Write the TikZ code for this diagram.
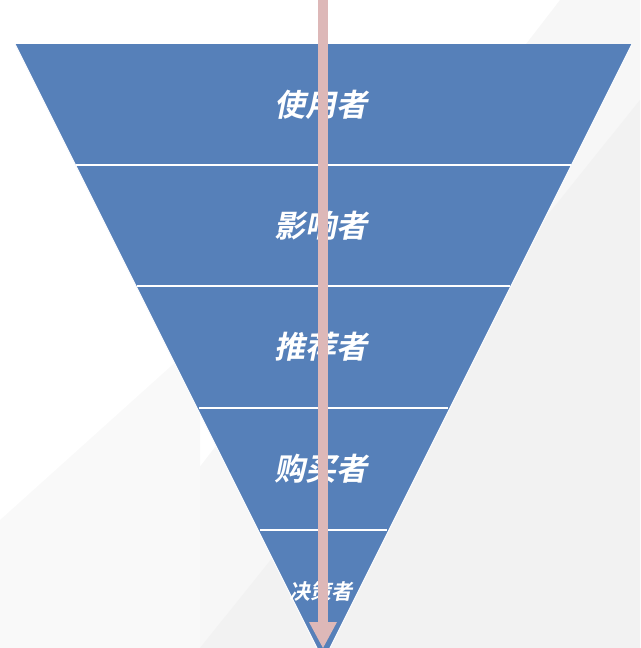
\documentclass[tikz,border=0pt]{standalone}
\usepackage{fontspec}
\newfontfamily\cjk[FakeSlant=0.2]{Noto Sans CJK SC Bold}
\definecolor{bandblue}{HTML}{5680B9}
\definecolor{barpink}{HTML}{DDB8B8}
\tikzset{
  label/.style={text=white,font=\cjk\fontsize{31}{31}\selectfont},
  divider/.style={white,line width=1.5pt}
}
\begin{document}
\begin{tikzpicture}[x=1pt,y=-1pt]
\useasboundingbox (0,0) rectangle (640,648);
% background
\fill[gray!6] (640,0) -- (640,648) -- (60,648) -- (560,0) -- cycle;
\fill[gray!10] (640,100) -- (640,648) -- (200,648) -- cycle;
\fill[gray!5] (0,520) -- (200,340) -- (200,648) -- (0,648) -- cycle;
% funnel
\fill[bandblue] (15,44) -- (632,44) -- (323.5,661) -- cycle;
\draw[divider] (76,165) -- (571,165);
\draw[divider] (137,286) -- (510,286);
\draw[divider] (199,408) -- (448,408);
\draw[divider] (260,530) -- (387,530);
\draw[white,line width=1pt] (15,44) -- (323.5,661) -- (632,44);
\node[label] (user) at (321,105) {使用者};
\node[label] (influencer) at (321,226) {影响者};
\node[label] (recommender) at (321,347) {推荐者};
\node[label] (buyer) at (321,469) {购买者};
\node[label,font=\cjk\fontsize{21}{21}\selectfont] (decider) at (321,591) {决策者};
% arrow
\coordinate (top) at (323,0);
\coordinate (tip) at (323,648);
\fill[barpink] (318,0) rectangle (328,622);
\fill[barpink] (309,622) -- (337,622) -- (tip) -- cycle;
\end{tikzpicture}
\end{document}
